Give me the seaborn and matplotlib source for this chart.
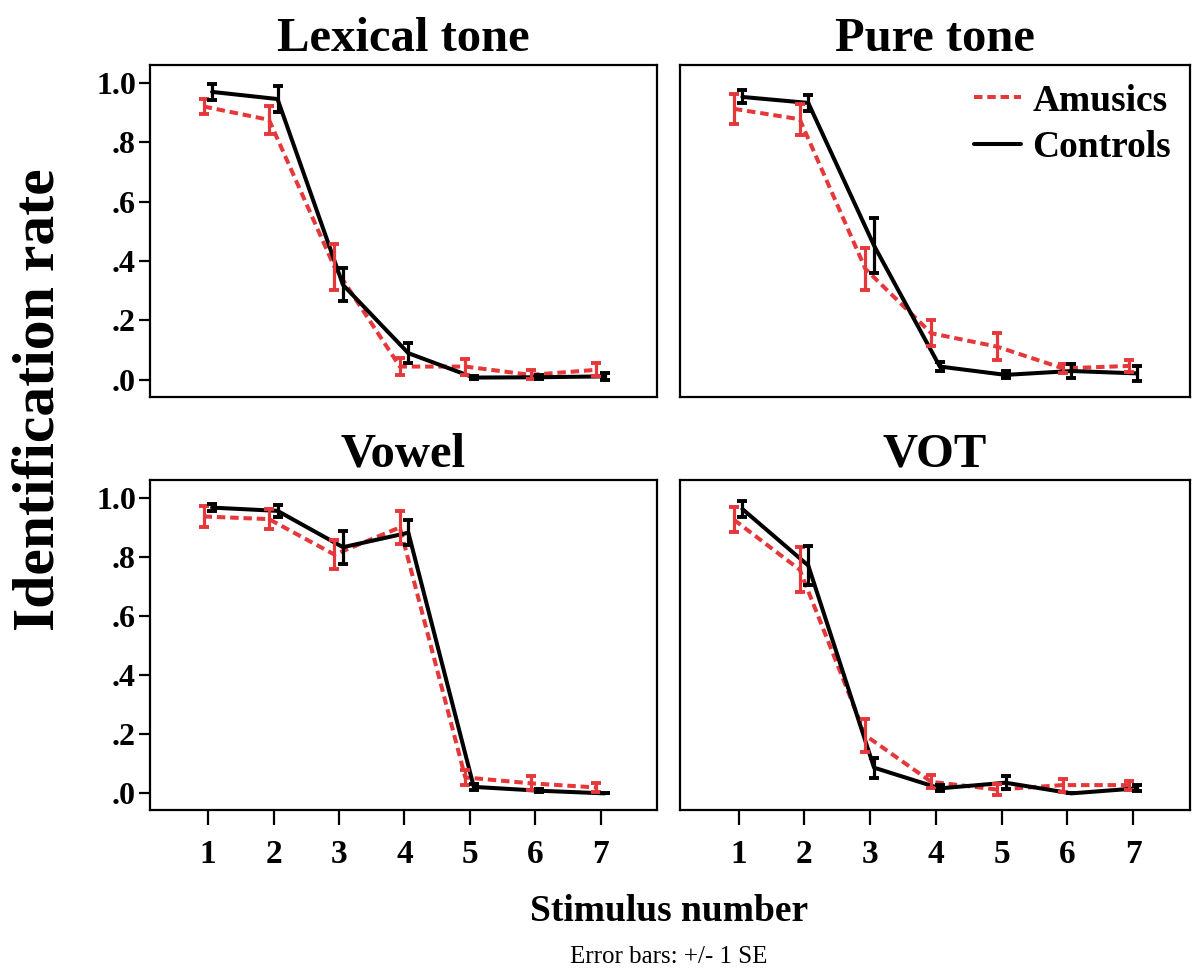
import matplotlib
matplotlib.use('Agg')
import matplotlib.pyplot as plt
from matplotlib.lines import Line2D
import seaborn as sns
import numpy as np
import pandas as pd

# Daten
stimuli = [1, 2, 3, 4, 5, 6, 7]
conditions = ['Lexical tone', 'Pure tone', 'Vowel', 'VOT']
groups = ['Amusics', 'Controls']

lex_amu = [0.92, 0.875, 0.38, 0.045, 0.045, 0.017, 0.034]
lex_amu_se = [0.026, 0.048, 0.078, 0.028, 0.027, 0.015, 0.022]
lex_con = [0.969, 0.945, 0.32, 0.09, 0.008, 0.009, 0.012]
lex_con_se = [0.027, 0.043, 0.056, 0.034, 0.006, 0.006, 0.012]

pure_amu = [0.912, 0.877, 0.373, 0.157, 0.112, 0.039, 0.047]
pure_amu_se = [0.05, 0.052, 0.07, 0.044, 0.045, 0.015, 0.02]
pure_con = [0.952, 0.932, 0.452, 0.045, 0.017, 0.03, 0.022]
pure_con_se = [0.022, 0.028, 0.093, 0.015, 0.012, 0.022, 0.025]

vow_amu = [0.937, 0.928, 0.808, 0.9, 0.054, 0.034, 0.02]
vow_amu_se = [0.035, 0.034, 0.05, 0.056, 0.026, 0.024, 0.014]
vow_con = [0.967, 0.956, 0.833, 0.882, 0.022, 0.009, 0.0]
vow_con_se = [0.012, 0.021, 0.056, 0.043, 0.01, 0.006, 0.0]

vot_amu = [0.926, 0.757, 0.196, 0.039, 0.013, 0.028, 0.028]
vot_amu_se = [0.042, 0.077, 0.056, 0.022, 0.02, 0.022, 0.015]
vot_con = [0.962, 0.771, 0.087, 0.017, 0.036, 0.0, 0.017]
vot_con_se = [0.028, 0.066, 0.034, 0.01, 0.022, 0.0, 0.01]

yticks = [0.0, 0.2, 0.4, 0.6, 0.8, 1.0]
ytick_labels = ['.0', '.2', '.4', '.6', '.8', '1.0']

werte = {
    'Lexical tone': (lex_amu, lex_amu_se, lex_con, lex_con_se),
    'Pure tone': (pure_amu, pure_amu_se, pure_con, pure_con_se),
    'Vowel': (vow_amu, vow_amu_se, vow_con, vow_con_se),
    'VOT': (vot_amu, vot_amu_se, vot_con, vot_con_se),
}

# Long-Format Tabelle
rows = []
for cond in conditions:
    amu, amu_se, con, con_se = werte[cond]
    for i, s in enumerate(stimuli):
        rows.append([cond, 'Amusics', s, amu[i], amu_se[i]])
        rows.append([cond, 'Controls', s, con[i], con_se[i]])
df = pd.DataFrame(rows, columns=['condition', 'group', 'stimulus', 'rate', 'se'])

sns.set_style('white')
plt.rcParams['font.family'] = ['Liberation Serif', 'DejaVu Serif']
plt.rcParams['font.weight'] = 'bold'
plt.rcParams['text.color'] = 'black'
plt.rcParams['xtick.color'] = 'black'
plt.rcParams['ytick.color'] = 'black'

farben = {'Amusics': '#e5383b', 'Controls': '#000000'}
versatz = {'Amusics': -0.07, 'Controls': 0.06}
df['xpos'] = df['stimulus'] + df['group'].map(versatz)

fig = plt.figure(figsize=(11.94, 9.68), dpi=100)
positionen = [
    [0.1256, 0.590, 0.4246, 0.343],
    [0.5695, 0.590, 0.4270, 0.343],
    [0.1256, 0.163, 0.4246, 0.341],
    [0.5695, 0.163, 0.4270, 0.341],
]

for k, cond in enumerate(conditions):
    ax = fig.add_axes(positionen[k])
    sub = df[df['condition'] == cond]
    sns.lineplot(data=sub, x='xpos', y='rate', hue='group', style='group',
                 palette=farben, dashes={'Amusics': (2.1, 1.2), 'Controls': ''},
                 linewidth=2.9, ax=ax, legend=False, zorder=3)
    for g in groups:
        gs = sub[sub['group'] == g]
        ax.errorbar(gs['xpos'], gs['rate'], yerr=gs['se'], fmt='none',
                    ecolor=farben[g], elinewidth=2.3, capsize=3.5,
                    capthick=2.8, zorder=4)
    ax.set_xlim(0.11, 7.86)
    ax.set_ylim(-0.057, 1.06)
    ax.set_title(cond, fontsize=35, fontweight='bold', pad=10)
    ax.set_xlabel('')
    ax.set_ylabel('')
    for sp in ax.spines.values():
        sp.set_linewidth(1.6)
        sp.set_color('black')
    if k in (0, 2):
        ax.set_yticks(yticks)
        ax.set_yticklabels(ytick_labels, fontsize=23, fontweight='bold')
        ax.tick_params(axis='y', direction='out', length=8, width=1.6, left=True, pad=2)
    else:
        ax.set_yticks([])
    if k in (2, 3):
        ax.set_xticks(stimuli)
        ax.set_xticklabels([str(s) for s in stimuli], fontsize=24, fontweight='bold')
        ax.tick_params(axis='x', direction='out', length=11, width=1.6, bottom=True, pad=10)
    else:
        ax.set_xticks([])
    if cond == 'Pure tone':
        handles = [Line2D([], [], color=farben['Amusics'], lw=2.9, dashes=(2.1, 1.2)),
                   Line2D([], [], color=farben['Controls'], lw=2.9)]
        ax.legend(handles, groups, loc='upper right', frameon=False,
                  prop={'size': 27, 'weight': 'bold'}, handlelength=1.25,
                  handletextpad=0.3, borderaxespad=0.1, labelspacing=0.3)

fig.text(0.034, 0.587, 'Identification rate', rotation=90, ha='center', va='center',
         fontsize=43, fontweight='bold')
fig.text(0.56, 0.058, 'Stimulus number', ha='center', va='center',
         fontsize=27, fontweight='bold')
fig.text(0.56, 0.011, 'Error bars: +/- 1 SE', ha='center', va='center',
         fontsize=18, fontweight='normal')

plt.savefig('out.png', dpi=100)
